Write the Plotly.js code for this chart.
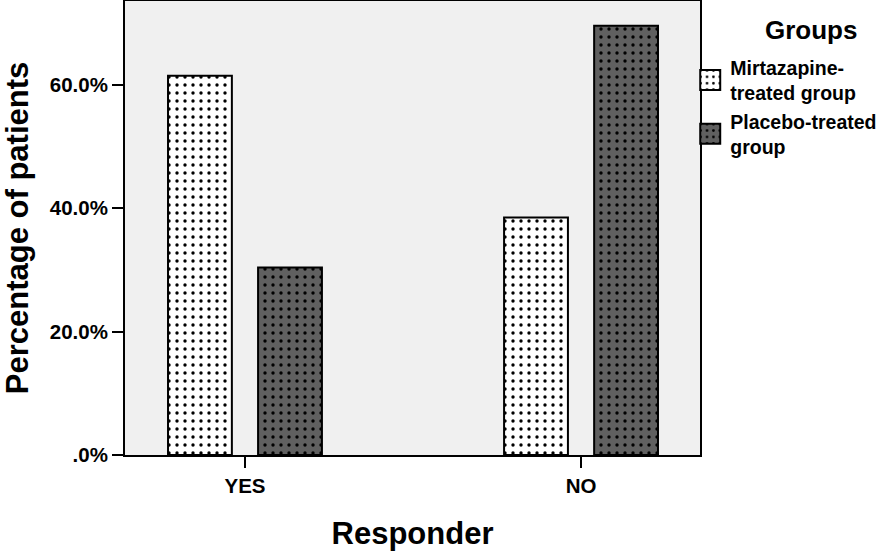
<!DOCTYPE html>
<html>
<head>
<meta charset="utf-8">
<script src="https://cdn.plot.ly/plotly-3.0.1.min.js"></script>
<style>html,body{margin:0;padding:0;background:#fff}#chart{width:894px;height:551px}</style>
</head>
<body>
<div id="chart"></div>
<script>
const categories = ["YES", "NO"];
const seriesNames = ["Mirtazapine-<br>treated group", "Placebo-treated<br>group"];
const legendTitle = "Groups";
const mirtazapine = [61.5, 38.5];
const placebo = [30.4, 69.6];
const tickValues = [0, 20, 40, 60];
const tickLabels = [".0%", "20.0%", "40.0%", "60.0%"];

const FONT = "Arial, 'Liberation Sans', sans-serif";

const traces = [
  {
    type: "bar", name: seriesNames[0], x: categories, y: mirtazapine,
    width: 0.19, offset: -0.229,
    marker: {color: "#ffffff", line: {color: "#000", width: 2},
      pattern: {shape: ".", fgcolor: "#000", bgcolor: "#ffffff", size: 8, solidity: 0.14}},
    hoverinfo: "skip"
  },
  {
    type: "bar", name: seriesNames[1], x: categories, y: placebo,
    width: 0.19, offset: 0.039,
    marker: {color: "#606060", line: {color: "#000", width: 2},
      pattern: {shape: ".", fgcolor: "#000", bgcolor: "#606060", size: 8, solidity: 0.14}},
    hoverinfo: "skip"
  }
];

const layout = {
  width: 894, height: 551,
  margin: {l: 125, r: 194, t: 1, b: 96, pad: 0},
  paper_bgcolor: "#ffffff",
  plot_bgcolor: "#f0f0f0",
  font: {family: FONT, color: "#000", size: 20},
  showlegend: true,
  legend: {
    x: 0.983, xanchor: "left", y: 0.896, yanchor: "top",
    font: {family: FONT, size: 19.5, color: "#000", weight: "bold"},
    tracegroupgap: 0, itemwidth: 30, bgcolor: "rgba(0,0,0,0)"
  },
  annotations: [{
    text: "<b>" + legendTitle + "</b>", xref: "paper", yref: "paper",
    x: (811 - 125) / 575, y: 1 - (30 - 1) / 454, xanchor: "center", yanchor: "middle",
    showarrow: false, font: {family: FONT, size: 26, color: "#000"}
  }],
  xaxis: {
    type: "category", range: [-0.357, 1.354],
    showline: true, linecolor: "#000", linewidth: 2, mirror: true,
    ticks: "outside", ticklen: 11, tickwidth: 2, tickcolor: "#000",
    tickfont: {family: FONT, size: 20.5, weight: "bold"},
    showgrid: false, zeroline: false, fixedrange: true,
    title: {text: "<b>Responder</b>", font: {family: FONT, size: 31}, standoff: 30}
  },
  yaxis: {
    range: [0, 73.6],
    tickvals: tickValues, ticktext: tickLabels,
    showline: true, linecolor: "#000", linewidth: 2, mirror: true,
    ticks: "outside", ticklen: 11, tickwidth: 2, tickcolor: "#000",
    tickfont: {family: FONT, size: 20.5, weight: "bold"},
    showgrid: false, zeroline: false, fixedrange: true,
    title: {text: "<b>Percentage of patients</b>", font: {family: FONT, size: 31}, standoff: 12}
  }
};

Plotly.newPlot("chart", traces, layout, {displayModeBar: false, staticPlot: true}).then(function (gd) {
  // enlarge legend swatches to match the reference's 20px boxes
  gd.querySelectorAll(".legend .legendpoints path").forEach(function (p) {
    p.setAttribute("d", "M10,10H-10V-10H10Z");
  });
});
</script>
</body>
</html>
